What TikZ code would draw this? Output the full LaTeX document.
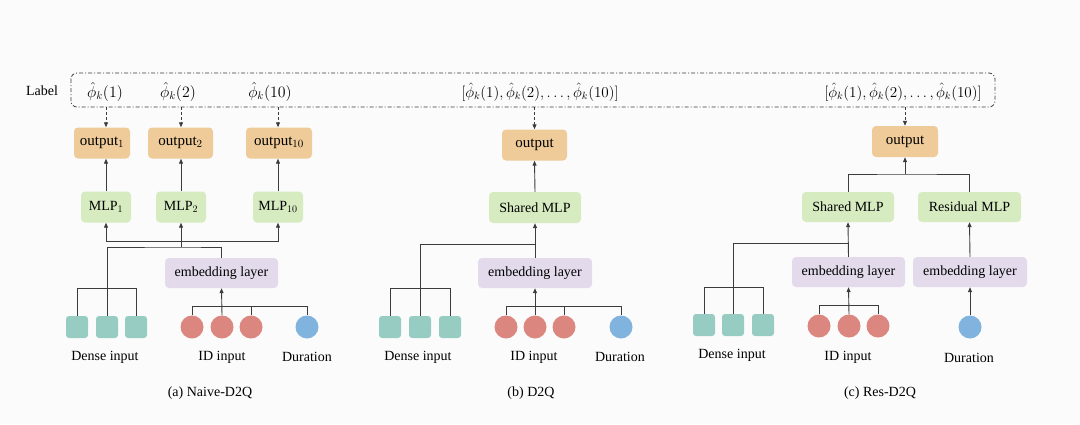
\documentclass[tikz,border=0pt]{standalone}
\usepackage{fontspec}
\setmainfont{Liberation Serif}
\usepackage{tikz}
\usetikzlibrary{calc,arrows.meta}
\definecolor{outcol}{HTML}{EECB98}
\definecolor{mlpcol}{HTML}{D6EBC0}
\definecolor{embcol}{HTML}{E3DAEC}
\definecolor{densecol}{HTML}{97CCC3}
\definecolor{idcol}{HTML}{DC8680}
\definecolor{durcol}{HTML}{80B3DE}
\definecolor{linecol}{HTML}{3C3C3C}
\tikzset{
    box/.style={
        rounded corners=4pt,
        inner sep=0pt,
        font=\fontsize{14}{16}\selectfont
    },
    outbox/.style={
        box,
        fill=outcol,
        font=\fontsize{15}{17}\selectfont,
        minimum height=31pt
    },
    mlpbox/.style={
        box,
        fill=mlpcol,
        minimum height=31pt
    },
    embbox/.style={
        box,
        fill=embcol,
        minimum width=113pt,
        minimum height=30pt
    },
    densebox/.style={
        rounded corners=3pt,
        fill=densecol,
        minimum size=22pt,
        inner sep=0pt
    },
    idball/.style={
        circle,
        fill=idcol,
        minimum size=23pt,
        inner sep=0pt
    },
    durball/.style={
        circle,
        fill=durcol,
        minimum size=23pt,
        inner sep=0pt
    },
    caption/.style={
        font=\fontsize{14}{16}\selectfont
    },
    conn/.style={
        draw=linecol,
        line width=0.9pt
    },
    arr/.style={
        conn,
        -{Triangle[length=5pt,width=4pt]}
    },
    dasharr/.style={
        conn,
        densely dashed,
        -{Triangle[length=5pt,width=4pt]}
    }
}

\begin{document}
\begin{tikzpicture}[x=1pt,y=-1pt]

    \fill[gray!3] (0,0) rectangle (1080,424);
    \useasboundingbox (0,0) rectangle (1080,424);

    %% Label row
    \draw[linecol,line width=0.8pt,dash pattern=on 4pt off 2pt on 1pt off 2pt,
        rounded corners=6pt] (71,73) rectangle (995,107);
    \coordinate (lblbot) at (533,107);
    \node (lbltxt) [caption] at (42,91) {Label};
    \node (phiA1) [caption,scale=1.1] at (105,92) {$\hat{\phi}_k(1)$};
    \node (phiA2) [caption,scale=1.1] at (178,92) {$\hat{\phi}_k(2)$};
    \node (phiA10) [caption,scale=1.1] at (270,92) {$\hat{\phi}_k(10)$};
    \node (phiB) [caption,scale=1.05] at (540,92) {$[\hat{\phi}_k(1),\hat{\phi}_k(2),\ldots,\hat{\phi}_k(10)]$};
    \node (phiC) [caption,scale=1.05] at (903,92) {$[\hat{\phi}_k(1),\hat{\phi}_k(2),\ldots,\hat{\phi}_k(10)]$};

    %% (a) Naive-D2Q
    \node (outA1) [outbox,minimum width=56pt] at (102,143) {output$_1$};
    \node (outA2) [outbox,minimum width=65pt] at (180.5,143) {output$_2$};
    \node (outA10) [outbox,minimum width=66pt] at (279,143) {output$_{10}$};
    \node (mlpA1) [mlpbox,minimum width=50pt] at (106,207) {MLP$_1$};
    \node (mlpA2) [mlpbox,minimum width=50pt] at (181,207) {MLP$_2$};
    \node (mlpA10) [mlpbox,minimum width=50pt] at (278,207) {MLP$_{10}$};
    \node (embA) [embbox] at (221.5,273) {embedding layer};

    \node (denA1) [densebox] at (77,327) {};
    \node (denA2) [densebox] at (107,327) {};
    \node (denA3) [densebox] at (136,327) {};
    \node (idA1) [idball] at (192,327) {};
    \node (idA2) [idball] at (222,327) {};
    \node (idA3) [idball] at (251,327) {};
    \node (durA) [durball] at (307,327) {};

    \node (txtA1) [caption] at (105,357) {Dense input};
    \node (txtA2) [caption] at (222,357) {ID input};
    \node (txtA3) [caption] at (307,357) {Duration};
    \node (capA) [caption] at (210,393) {(a) Naive-D2Q};

    \foreach \i in {1,2,10} {
        \draw[dasharr] (mlpA\i.north |- lblbot) -- (mlpA\i.north |- outA\i.north);
        \draw[arr] (mlpA\i.north) -- (mlpA\i.north |- outA\i.south);
    }
    \coordinate (busA) at (181,241);
    \coordinate (jA) at (181,247);
    \draw[arr] (busA) -| (mlpA1.south);
    \draw[arr] (busA) -- (mlpA2.south);
    \draw[arr] (busA) -| (mlpA10.south);
    \draw[conn] (busA) -- (jA);
    \draw[conn] (denA2.north) |- (jA) -| (embA.north);
    \draw[conn] (denA1.north) -- ++(0,-27) -| (denA3.north);
    \draw[conn] (idA1.north) -- ++(0,-9) -| (durA.north);
    \draw[conn] (idA3.north) -- ++(0,-9);
    \draw[arr] (idA2.north) -- (embA.south);

    %% (b) D2Q
    \node (outB) [outbox,minimum width=65pt] at (534.5,145) {output};
    \node (mlpB) [mlpbox,minimum width=92pt] at (535,207.5) {Shared MLP};
    \node (embB) [embbox,minimum width=114pt] at (535,273) {embedding layer};

    \node (denB1) [densebox] at (390,327) {};
    \node (denB2) [densebox] at (420,327) {};
    \node (denB3) [densebox] at (450,327) {};
    \node (idB1) [idball] at (506,327) {};
    \node (idB2) [idball] at (535,327) {};
    \node (idB3) [idball] at (564,327) {};
    \node (durB) [durball] at (621,327) {};

    \node (txtB1) [caption] at (418,357) {Dense input};
    \node (txtB2) [caption] at (534,357) {ID input};
    \node (txtB3) [caption] at (620,357) {Duration};
    \node (capB) [caption] at (531,393) {(b) D2Q};

    \draw[dasharr] (outB.north |- lblbot) -- (outB.north);
    \draw[arr] (mlpB.north) -- (outB.south);
    \draw[arr] (embB.north) -- (mlpB.south);
    \coordinate (busB) at (535,244);
    \draw[conn] (denB2.north) |- (busB);
    \draw[conn] (denB1.north) -- ++(0,-27) -| (denB3.north);
    \draw[conn] (idB1.north) -- ++(0,-9) -| (durB.north);
    \draw[conn] (idB3.north) -- ++(0,-9);
    \draw[arr] (idB2.north) -- (embB.south);

    %% (c) Res-D2Q
    \node (outC) [outbox,minimum width=66pt] at (905,141.5) {output};
    \node (shC) [mlpbox,minimum width=92pt,minimum height=30pt] at (848,207) {Shared MLP};
    \node (resC) [mlpbox,minimum width=103pt,minimum height=30pt] at (969.5,207) {Residual MLP};
    \node (embC1) [embbox] at (848.5,272) {embedding layer};
    \node (embC2) [embbox,minimum width=114pt] at (970,272) {embedding layer};

    \node (denC1) [densebox] at (704,325) {};
    \node (denC2) [densebox] at (733,325) {};
    \node (denC3) [densebox] at (763,325) {};
    \node (idC1) [idball] at (819,326) {};
    \node (idC2) [idball] at (849,326) {};
    \node (idC3) [idball] at (878,326) {};
    \node (durC) [durball] at (970,327) {};

    \node (txtC1) [caption] at (732,355) {Dense input};
    \node (txtC2) [caption] at (848,357) {ID input};
    \node (txtC3) [caption] at (969,358) {Duration};
    \node (capC) [caption] at (880,393) {(c) Res-D2Q};

    \draw[dasharr] (outC.north |- lblbot) -- (outC.north);
    \coordinate (topC) at (905,174);
    \draw[conn] (shC.north) |- (topC) -| (resC.north);
    \draw[arr] (topC) -- (outC.south);
    \draw[arr] (embC1.north) -- (shC.south);
    \draw[arr] (embC2.north) -- (resC.south);
    \coordinate (busC) at (849,243);
    \draw[conn] (denC2.north) |- (busC);
    \draw[conn] (denC1.north) -- ++(0,-26) -| (denC3.north);
    \draw[conn] (idC1.north) -- ++(0,-9) -| (idC3.north);
    \draw[arr] (idC2.north) -- (embC1.south);
    \draw[arr] (durC.north) -- (embC2.south);

\end{tikzpicture}
\end{document}
